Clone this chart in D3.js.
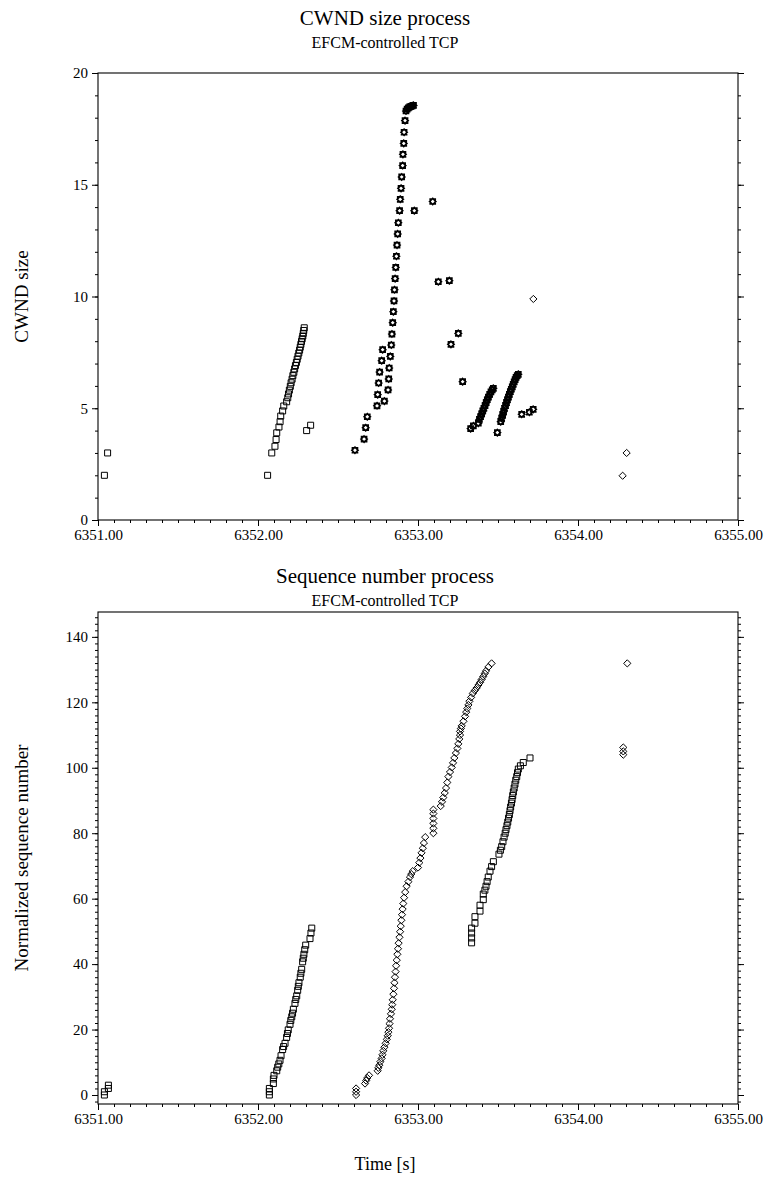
<!DOCTYPE html>
<html lang="en">
<head>
<meta charset="utf-8">
<title>CWND / sequence number</title>
<script src="https://cdn.jsdelivr.net/npm/d3@7"></script>
<style>
  body { margin: 0; background: #fff; }
  svg, svg text { font-family: "Liberation Serif", "DejaVu Serif", serif !important; }
</style>
</head>
<body>
<script>

// ---- data: [time (s), value] ----
var timeTicks = [6351, 6352, 6353, 6354, 6355];
var cwndTicks = [0, 5, 10, 15, 20];
var seqTicks = [0, 20, 40, 60, 80, 100, 120, 140];

// CWND, square markers
var cwndSquares = [
  [6351.04, 2], [6351.06, 3],
  [6352.06, 2], [6352.086, 3.0], [6352.106, 3.3], [6352.113, 3.6], [6352.117, 3.9],
  [6352.131, 4.16], [6352.138, 4.4], [6352.142, 4.65], [6352.154, 4.88], [6352.161, 5.1],
  [6352.179, 5.29], [6352.186, 5.47], [6352.191, 5.64], [6352.196, 5.81], [6352.202, 5.98],
  [6352.207, 6.14], [6352.213, 6.3], [6352.218, 6.46], [6352.224, 6.61], [6352.229, 6.76],
  [6352.234, 6.91], [6352.24, 7.05], [6352.245, 7.19], [6352.25, 7.33], [6352.255, 7.47],
  [6352.26, 7.6], [6352.264, 7.73], [6352.268, 7.86], [6352.272, 7.99], [6352.276, 8.11],
  [6352.28, 8.23], [6352.283, 8.35], [6352.286, 8.48], [6352.289, 8.6],
  [6352.304, 4.0], [6352.329, 4.24]
];

// CWND, bold markers (square and diamond drawn on top of each other)
var cwndBoth = [
  [6352.606, 3.12], [6352.663, 3.62], [6352.673, 4.13], [6352.683, 4.62],
  [6352.744, 5.11], [6352.748, 5.61], [6352.754, 6.13], [6352.76, 6.62], [6352.773, 7.13], [6352.779, 7.62],
  [6352.79, 5.32], [6352.813, 5.82], [6352.817, 6.31], [6352.82, 6.8], [6352.827, 7.32], [6352.833, 7.83],
  [6352.837, 8.32], [6352.842, 8.83], [6352.846, 9.32], [6352.85, 9.8], [6352.853, 10.3], [6352.857, 10.8],
  [6352.861, 11.3], [6352.865, 11.8], [6352.869, 12.3], [6352.873, 12.8], [6352.877, 13.3], [6352.885, 13.84],
  [6352.889, 14.35], [6352.894, 14.84], [6352.898, 15.35], [6352.904, 15.86], [6352.906, 16.36],
  [6352.911, 16.85], [6352.913, 17.35], [6352.919, 17.87],
  [6352.925, 18.3], [6352.932, 18.38], [6352.94, 18.44], [6352.948, 18.48], [6352.956, 18.51], [6352.964, 18.53], [6352.972, 18.55],
  [6352.977, 13.84], [6353.092, 14.25], [6353.127, 10.66], [6353.196, 10.71], [6353.206, 7.86], [6353.252, 8.35], [6353.279, 6.19],
  [6353.329, 4.09], [6353.346, 4.21], [6353.377, 4.33], [6353.384, 4.5], [6353.391, 4.62], [6353.398, 4.75],
  [6353.405, 4.88], [6353.412, 5.0], [6353.419, 5.12], [6353.426, 5.25], [6353.433, 5.38], [6353.44, 5.5],
  [6353.448, 5.62], [6353.456, 5.73], [6353.464, 5.82], [6353.471, 5.89],
  [6353.496, 3.91], [6353.517, 4.4], [6353.523, 4.55], [6353.529, 4.7], [6353.535, 4.85], [6353.541, 5.0],
  [6353.547, 5.12], [6353.553, 5.25], [6353.559, 5.38], [6353.565, 5.5], [6353.571, 5.62], [6353.577, 5.74],
  [6353.583, 5.85], [6353.589, 5.96], [6353.595, 6.07], [6353.601, 6.18], [6353.607, 6.28], [6353.613, 6.38],
  [6353.62, 6.46], [6353.627, 6.52],
  [6353.648, 4.73], [6353.696, 4.82], [6353.72, 4.95]
];

// CWND, diamond markers
var cwndDiamonds = [[6353.721, 9.89], [6354.279, 1.98], [6354.304, 3.0]];

// normalized sequence number, square markers
var seqSquares = [
  [6351.04, 0], [6351.04, 1], [6351.065, 2], [6351.065, 3],
  [6352.071, 0], [6352.071, 1], [6352.071, 2], [6352.096, 3.5], [6352.096, 4.9], [6352.1, 6], [6352.117, 7.4],
  [6352.123, 8.5], [6352.13, 9.5], [6352.1375, 10.6], [6352.144, 12], [6352.154, 13.9], [6352.16, 14.8],
  [6352.169, 15.8], [6352.179, 17.6], [6352.184, 18.8], [6352.189, 19.9], [6352.2, 21.6], [6352.205, 22.8],
  [6352.211, 23.9], [6352.216, 25], [6352.221, 26.2], [6352.231, 28], [6352.236, 29.2], [6352.242, 30.3],
  [6352.248, 32], [6352.252, 33.2], [6352.256, 34.3], [6352.264, 36], [6352.268, 37.2], [6352.273, 38.4],
  [6352.279, 40.7], [6352.283, 41.8], [6352.287, 43], [6352.292, 44.4], [6352.298, 45.8],
  [6352.325, 47.8], [6352.331, 49.5], [6352.336, 51],
  [6353.335, 46.5], [6353.335, 48], [6353.335, 49.5], [6353.335, 51], [6353.356, 52.5], [6353.356, 54.5],
  [6353.3875, 56.2], [6353.3875, 58], [6353.408, 59.7], [6353.408, 61.4], [6353.418, 62.6], [6353.425, 63.8],
  [6353.432, 65.2], [6353.439, 66.6], [6353.45, 68.4], [6353.46, 69.8], [6353.471, 71.3], [6353.506, 73.6],
  [6353.515, 74.8], [6353.523, 75.9], [6353.531, 77.4], [6353.538, 78.8], [6353.545, 80], [6353.55, 81.1],
  [6353.556, 82.3], [6353.561, 83.4], [6353.566, 84.6], [6353.571, 85.7], [6353.575, 86.9], [6353.579, 88],
  [6353.584, 89.2], [6353.588, 90.3], [6353.592, 91.5], [6353.596, 92.6], [6353.601, 93.8], [6353.606, 95],
  [6353.611, 96.2], [6353.617, 97.3], [6353.622, 98.5], [6353.627, 99.6], [6353.64, 100.6], [6353.658, 101.6],
  [6353.7, 103]
];

// normalized sequence number, diamond markers
var seqDiamonds = [
  [6352.613, 0], [6352.613, 1], [6352.613, 2], [6352.669, 3.5], [6352.676, 4.4], [6352.683, 5.2], [6352.694, 6.0],
  [6352.748, 7.4], [6352.752, 8.3], [6352.758, 9.1], [6352.765, 10.2], [6352.773, 11.2], [6352.778, 12.3],
  [6352.783, 13.5], [6352.79, 14.6], [6352.798, 15.8], [6352.805, 17], [6352.811, 18.1], [6352.815, 19.2],
  [6352.819, 20.4], [6352.822, 21.8], [6352.825, 23.3], [6352.831, 24.8], [6352.836, 26.2], [6352.839, 27.6],
  [6352.842, 29.1], [6352.846, 30.8], [6352.85, 32.6], [6352.853, 34.3], [6352.856, 36], [6352.86, 37.7],
  [6352.863, 39.5], [6352.867, 41.2], [6352.871, 43], [6352.875, 44.7], [6352.879, 46.4], [6352.884, 48.2],
  [6352.888, 49.9], [6352.892, 51.6], [6352.896, 53.4], [6352.9, 55.1], [6352.904, 56.8], [6352.908, 58.5],
  [6352.913, 60.3], [6352.92, 62], [6352.929, 63.8], [6352.94, 65.2], [6352.95, 66.6], [6352.958, 67.5],
  [6352.967, 68.4], [6353.0, 69.5], [6353.008, 71], [6353.015, 72.4], [6353.022, 74], [6353.03, 75.4],
  [6353.037, 77], [6353.045, 78.8],
  [6353.096, 80], [6353.096, 81.5], [6353.096, 83], [6353.096, 84.5], [6353.096, 86], [6353.096, 87.2],
  [6353.142, 88.3], [6353.15, 89.6], [6353.158, 90.9], [6353.167, 92.3], [6353.175, 93.8], [6353.183, 95.5],
  [6353.19, 97.3], [6353.2, 98.7], [6353.211, 100.1], [6353.219, 101.5], [6353.227, 103], [6353.237, 104.5],
  [6353.246, 105.9], [6353.252, 107.3], [6353.258, 108.8], [6353.2625, 110], [6353.2625, 111.1],
  [6353.268, 112], [6353.273, 112.8], [6353.284, 114.2], [6353.294, 115.7], [6353.301, 117], [6353.308, 118.1],
  [6353.315, 119.2], [6353.321, 120.3], [6353.332, 121.5], [6353.342, 122.7], [6353.355, 123.6],
  [6353.367, 124.4], [6353.378, 125.3], [6353.388, 126.1], [6353.398, 127], [6353.408, 127.9],
  [6353.417, 128.8], [6353.425, 129.6], [6353.44, 130.8], [6353.46, 131.9],
  [6354.283, 104], [6354.283, 105], [6354.283, 106.2], [6354.308, 131.9]
];

var w = 769, h = 1187;

var svg = d3.select("body").append("svg")
  .attr("width", w).attr("height", h)
  .attr("font-family", "Liberation Serif");

function squarePath(s) {
  return "M" + (-s) + "," + (-s) + "H" + s + "V" + s + "H" + (-s) + "Z";
}
function diamondPath(s) {
  return "M0," + (-s) + "L" + s + ",0L0," + s + "L" + (-s) + ",0Z";
}

function drawPanel(opt) {
  var x = d3.scaleLinear().domain([6351, 6355]).range([98, 738]);
  var y = d3.scaleLinear().domain(opt.yDomain).range([opt.bottom, opt.top]);
  var g = svg.append("g");

  // titles
  g.append("text").attr("x", 385).attr("y", opt.titleY)
    .attr("text-anchor", "middle").attr("font-size", 21).text(opt.title);
  g.append("text").attr("x", 385).attr("y", opt.titleY + 23)
    .attr("text-anchor", "middle").attr("font-size", 16).text("EFCM-controlled TCP");

  // x axis, major + minor
  var xMinor = d3.range(6351, 6355.001, 0.1);
  g.append("g").attr("transform", "translate(0," + opt.bottom + ")")
    .call(d3.axisBottom(x).tickValues(xMinor).tickSize(3).tickFormat(""));
  g.append("g").attr("transform", "translate(0," + opt.bottom + ")")
    .call(d3.axisBottom(x).tickValues(timeTicks).tickSize(6).tickPadding(3).tickFormat(d3.format(".2f")));

  // y axis left + right, major + minor
  g.append("g").attr("transform", "translate(98,0)")
    .call(d3.axisLeft(y).tickValues(opt.yMinor).tickSize(3).tickFormat(""));
  g.append("g").attr("transform", "translate(98,0)")
    .call(d3.axisLeft(y).tickValues(opt.yTicks).tickSize(6).tickPadding(4));
  g.append("g").attr("transform", "translate(738,0)")
    .call(d3.axisRight(y).tickValues(opt.yMinor).tickSize(3).tickFormat(""));
  g.append("g").attr("transform", "translate(738,0)")
    .call(d3.axisRight(y).tickValues(opt.yTicks).tickSize(6).tickFormat(""));

  // d3 puts font-family="sans-serif" on each axis group, drop it
  g.selectAll("g").attr("font-family", null).attr("font-size", null);
  g.selectAll(".domain").remove();
  g.selectAll(".tick line").attr("stroke", "#000");
  g.selectAll(".tick text").attr("fill", "#000").attr("font-size", 15);

  // frame
  g.append("rect").attr("x", 98).attr("y", opt.top)
    .attr("width", 640).attr("height", opt.bottom - opt.top)
    .attr("fill", "none").attr("stroke", "#000").attr("stroke-width", 1.1);

  // y label
  g.append("text")
    .attr("transform", "translate(28," + ((opt.top + opt.bottom) / 2) + ") rotate(-90)")
    .attr("text-anchor", "middle").attr("font-size", 19).text(opt.yLabel);

  // markers
  g.selectAll(".sq").data(opt.squares).enter().append("path")
    .attr("d", squarePath(3))
    .attr("transform", function(d) { return "translate(" + x(d[0]) + "," + y(d[1]) + ")"; })
    .attr("fill", "none").attr("stroke", "#000").attr("stroke-width", 1);
  g.selectAll(".dm").data(opt.diamonds).enter().append("path")
    .attr("d", diamondPath(3.6))
    .attr("transform", function(d) { return "translate(" + x(d[0]) + "," + y(d[1]) + ")"; })
    .attr("fill", "none").attr("stroke", "#000").attr("stroke-width", 1);
  if (opt.both) {
    // square + diamond on one spot reads as a thick octagon ring
    g.selectAll(".bs").data(opt.both).enter().append("path")
      .attr("d", squarePath(2.5) + diamondPath(3.1))
      .attr("transform", function(d) { return "translate(" + x(d[0]) + "," + y(d[1]) + ")"; })
      .attr("fill", "none").attr("stroke", "#000").attr("stroke-width", 1.7);
  }
}

drawPanel({
  title: "CWND size process", yLabel: "CWND size", titleY: 25,
  top: 73, bottom: 520, yDomain: [0, 20],
  yTicks: cwndTicks, yMinor: d3.range(0, 21, 1),
  squares: cwndSquares, diamonds: cwndDiamonds, both: cwndBoth
});

drawPanel({
  title: "Sequence number process", yLabel: "Normalized sequence number", titleY: 583,
  top: 612, bottom: 1104, yDomain: [-2.75, 147.6],
  yTicks: seqTicks, yMinor: d3.range(-2, 148, 2),
  squares: seqSquares, diamonds: seqDiamonds
});

svg.append("text").attr("x", 385).attr("y", 1170)
  .attr("text-anchor", "middle").attr("font-size", 18).text("Time [s]");

</script>
</body>
</html>
